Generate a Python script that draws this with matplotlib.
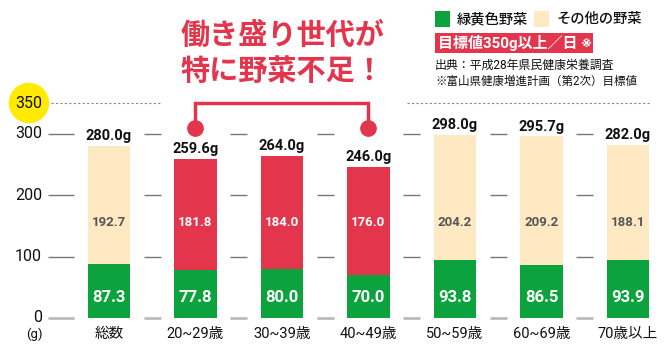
import matplotlib
matplotlib.use("Agg")
import matplotlib.pyplot as plt
from matplotlib.patches import Rectangle

plt.rcParams['font.family'] = ['Roboto', 'Noto Sans CJK JP', 'DejaVu Sans']

# data
CATEGORIES = ["総数", "20~29歳", "30~39歳", "40~49歳", "50~59歳", "60~69歳", "70歳以上"]
GREEN = [87.3, 77.8, 80.0, 70.0, 93.8, 86.5, 93.9]
OTHER = [192.7, 181.8, 184.0, 176.0, 204.2, 209.2, 188.1]
TOTAL = [280.0, 259.6, 264.0, 246.0, 298.0, 295.7, 282.0]
HIGHLIGHT = [False, True, True, True, False, False, False]
YTICKS = [0, 100, 200, 300]
TARGET = 350

C_GREEN = "#0ca33e"
C_BEIGE = "#fee9c3"
C_RED = "#e3354c"
C_YELLOW = "#ffea00"

W, H = 664, 352
BAR_W = 0.486


def fx(px):
    return px / W


def fy(py):
    return 1 - py / H


fig = plt.figure(figsize=(W / 100, H / 100), dpi=100)
ax = fig.add_axes([fx(48), fy(318), fx(660) - fx(48), (318 - 103) / H])
ax.set_xlim(-0.705, 6.37)
ax.set_ylim(0, TARGET)
for s in ax.spines.values():
    s.set_visible(False)
ax.set_xticks([])
ax.set_yticks([])

xs = list(range(len(CATEGORIES)))

# short gridline pieces between the bars
gap = 0.16
for y in YTICKS:
    col = "#bbbbbb" if y == 0 else "#777777"
    lw = 2.0 if y == 0 else 1.0
    starts = [-0.705] + [x + BAR_W / 2 + gap for x in xs[:-1]]
    ends = [x - BAR_W / 2 - gap for x in xs]
    ax.hlines([y] * len(xs), starts, ends, colors=col, lw=lw, zorder=1, clip_on=False)
    ax.text(-0.775, y, str(y), ha="right", va="center", fontsize=11.5, color="#111111")

# dotted target line, broken around the heading bracket
ax.hlines([TARGET, TARGET], [-0.665, 3.45], [0.6, 6.25], colors="#888888",
          lw=0.8, linestyles=(0, (2, 2)), clip_on=False)
ax.text(-0.925, TARGET, str(TARGET), ha="center", va="center", fontsize=11.5,
        color="#111111",
        bbox=dict(boxstyle="circle,pad=0.42", fc=C_YELLOW, ec="none"), clip_on=False)

top_colors = [C_RED if h else C_BEIGE for h in HIGHLIGHT]
ax.bar(xs, GREEN, BAR_W, color=C_GREEN, zorder=2)
ax.bar(xs, OTHER, BAR_W, bottom=GREEN, color=top_colors, zorder=2)

for x, g, o, t, h in zip(xs, GREEN, OTHER, TOTAL, HIGHLIGHT):
    ax.text(x, 34, "%.1f" % g, ha="center", va="center", fontsize=12,
            fontweight="bold", color="white", zorder=3)
    ax.text(x, 155, "%.1f" % o, ha="center", va="center", fontsize=9.5,
            fontweight="bold", color="white" if h else "#555555", zorder=3)
    ax.annotate("%.1fg" % t, (x, t), xytext=(0, 2), textcoords="offset points",
                ha="center", va="bottom", fontsize=10.5, fontweight="bold",
                color="#111111", annotation_clip=False)
    ax.text(x, -26, CATEGORIES[x], ha="center", va="center", fontsize=10.5,
            color="#111111", clip_on=False)
ax.text(-0.86, -26, "(g)", ha="center", va="center", fontsize=9.5, color="#111111")

# bracket over the working-age bars
b0, b1 = 1, 3
ax.plot([b0, b0, b1, b1], [TARGET - 40, TARGET, TARGET, TARGET - 40],
        color=C_RED, lw=2.5, solid_joinstyle="miter", clip_on=False, zorder=4)
ax.plot([b0, b1], [TARGET - 40, TARGET - 40], "o", ms=11, color=C_RED,
        clip_on=False, zorder=4)

# heading
fig.text(fx(282), fy(36), "働き盛り世代が", ha="center", va="center",
         fontsize=21, fontweight="bold", color=C_RED)
fig.text(fx(282), fy(72), "特に野菜不足！", ha="center", va="center",
         fontsize=21, fontweight="bold", color=C_RED)

# legend
fig.patches.append(Rectangle((fx(435), fy(27)), fx(15), 16 / H, transform=fig.transFigure,
                             fc=C_GREEN, ec="none"))
fig.text(fx(457), fy(19), "緑黄色野菜", ha="left", va="center", fontsize=10.3,
         fontweight="medium", color="#111111")
fig.patches.append(Rectangle((fx(534), fy(27)), fx(15), 16 / H, transform=fig.transFigure,
                             fc=C_BEIGE, ec="none"))
fig.text(fx(557), fy(19), "その他の野菜", ha="left", va="center", fontsize=10.3,
         fontweight="medium", color="#111111")

fig.patches.append(Rectangle((fx(435), fy(53)), fx(158), 20 / H, transform=fig.transFigure,
                             fc=C_RED, ec="none"))
fig.text(fx(438), fy(43), "目標値350g以上／日 ※", ha="left", va="center", fontsize=10.8,
         fontweight="bold", color="white")

fig.text(fx(435), fy(65), "出典：平成28年県民健康栄養調査", ha="left", va="center",
         fontsize=8.6, color="#111111")
fig.text(fx(435), fy(81), "※富山県健康増進計画（第2次）目標値", ha="left", va="center",
         fontsize=8.3, color="#111111")

fig.savefig("out.png", dpi=100)
